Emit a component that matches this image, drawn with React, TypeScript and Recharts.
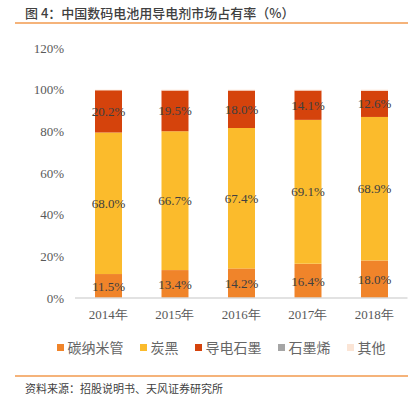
import React from "react";
import { BarChart, Bar, XAxis, YAxis, LabelList } from "recharts";

const categories = ["2014年", "2015年", "2016年", "2017年", "2018年"];
const cnt = [11.5, 13.4, 14.2, 16.4, 18.0];
const carbonBlack = [68.0, 66.7, 67.4, 69.1, 68.9];
const graphite = [20.2, 19.5, 18.0, 14.1, 12.6];
const graphene = [0, 0, 0, 0, 0];
const other = [0.3, 0.4, 0.4, 0.4, 0.5];
const yTicks = [0, 20, 40, 60, 80, 100, 120];

const seriesNames = ["碳纳米管", "炭黑", "导电石墨", "石墨烯", "其他"];
const seriesKeys = ["cnt", "cb", "gr", "gn", "ot"];
const seriesColors = ["#F0842A", "#FBBB2C", "#D5430C", "#A5A5A5", "#FBE5D6"];
const seriesValues = [cnt, carbonBlack, graphite, graphene, other];
const labeled = [true, true, true, false, false];

const data = categories.map((c, i) => {
  const row: any = { name: c };
  seriesKeys.forEach((k, j) => (row[k] = seriesValues[j][i]));
  return row;
});

const serif = "'Liberation Serif', 'DejaVu Serif', serif";
const sans = "'Noto Sans CJK SC', 'Noto Sans', sans-serif";

export default function App() {
  return (
    <div style={{ position: "absolute", left: 0, top: 0, width: 420, height: 396, background: "#fff", overflow: "hidden" }}>
      <div style={{ position: "absolute", left: 25, top: 4, fontFamily: sans, fontSize: 13, color: "#404040", fontWeight: 500, whiteSpace: "nowrap", lineHeight: "18px" }}>
        图 4：中国数码电池用导电剂市场占有率（%）
      </div>
      <div style={{ position: "absolute", left: 15, top: 22, width: 393, height: 1.5, background: "#F5B37A" }} />
      <div style={{ position: "absolute", left: 0, top: 0 }}>
        <BarChart width={420} height={340} data={data} margin={{ top: 48, right: 12.5, bottom: 12, left: 0 }}>
          <XAxis
            dataKey="name"
            height={30}
            tickLine={false}
            axisLine={{ stroke: "#D9D9D9", strokeWidth: 1.5 }}
            tickMargin={6}
            tick={{ fontFamily: serif, fontSize: 13, fill: "#595959" }}
          />
          <YAxis
            width={75}
            domain={[0, 120]}
            ticks={yTicks}
            axisLine={false}
            tickLine={false}
            tickMargin={5}
            tickFormatter={(v: number) => `${v}%`}
            tick={{ fontFamily: serif, fontSize: 13, fill: "#595959" }}
          />
          {seriesKeys.map((k, j) => (
            <Bar key={k} dataKey={k} stackId="a" fill={seriesColors[j]} barSize={27} isAnimationActive={false}>
              {labeled[j] && (
                <LabelList
                  dataKey={k}
                  position="center"
                  formatter={(v: number) => `${v.toFixed(1)}%`}
                  style={{ fontFamily: serif, fontSize: 13, fill: "#404040" }}
                />
              )}
            </Bar>
          ))}
        </BarChart>
      </div>
      <div style={{ position: "absolute", left: 0, top: 338, width: 420, display: "flex", justifyContent: "center", gap: 16, fontFamily: sans, fontSize: 14, color: "#666666", lineHeight: "18px", paddingLeft: 22, boxSizing: "border-box" }}>
        {seriesNames.map((n, j) => (
          <div key={n} style={{ display: "flex", alignItems: "center" }}>
            <span style={{ display: "inline-block", width: 7, height: 7, background: seriesColors[j], marginRight: 4 }} />
            <span>{n}</span>
          </div>
        ))}
      </div>
      <div style={{ position: "absolute", left: 15, top: 375, width: 393, height: 1.5, background: "#F5B37A" }} />
      <div style={{ position: "absolute", left: 25, top: 380, fontFamily: sans, fontSize: 11, color: "#404040", whiteSpace: "nowrap", lineHeight: "16px" }}>
        资料来源：招股说明书、天风证券研究所
      </div>
    </div>
  );
}
